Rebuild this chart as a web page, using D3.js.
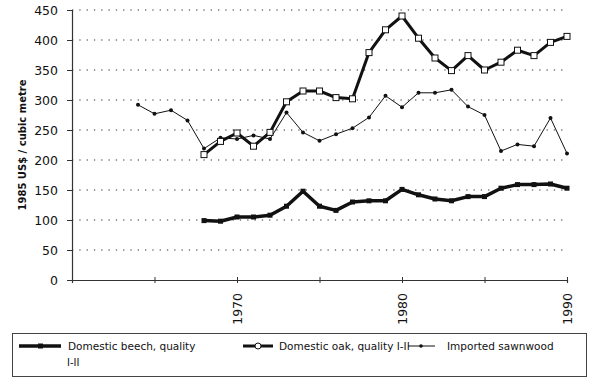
<!DOCTYPE html>
<html lang="en">
<head>
  <meta charset="UTF-8">
  <title>Sawnwood prices</title>
  <script src="https://cdn.jsdelivr.net/npm/d3@7"></script>
  <style>
    body { margin: 0; background: #fff; }
    text { font-family: "DejaVu Sans", sans-serif; fill: #111; }
  </style>
</head>
<body>
  <svg id="chart"></svg>
  <script>
    // values
    var beechYears = d3.range(1968, 1991);
    var beech = [99, 98, 105, 105, 108, 123, 148, 123, 116, 130, 132, 132, 151, 142, 135, 132, 139, 139, 153, 159, 159, 160, 153];
    var oakYears = d3.range(1968, 1991);
    var oak = [209, 231, 245, 223, 246, 297, 315, 315, 304, 302, 379, 417, 440, 403, 370, 349, 374, 350, 363, 383, 374, 396, 406];
    var importYears = d3.range(1964, 1991);
    var imported = [292, 277, 283, 266, 219, 237, 235, 241, 235, 279, 246, 232, 243, 253, 271, 307, 288, 312, 312, 317, 289, 275, 215, 226, 223, 270, 211];
    var yTicks = [0, 50, 100, 150, 200, 250, 300, 350, 400, 450];
    var xTicks = [1960, 1965, 1970, 1975, 1980, 1985, 1990];
    var xLabels = [1970, 1980, 1990];

    var width = 600, height = 382;
    var svg = d3.select("#chart").attr("width", width).attr("height", height);

    var x = d3.scaleLinear().domain([1960, 1990]).range([72, 567]);
    var y = d3.scaleLinear().domain([0, 450]).range([280, 10]);

    // dotted grid
    svg.append("g")
        .selectAll("line")
        .data(yTicks.slice(1))
        .enter()
        .append("line")
        .attr("x1", x(1960))
        .attr("x2", x(1990))
        .attr("y1", d => y(d))
        .attr("y2", d => y(d))
        .attr("stroke", "#333")
        .attr("stroke-width", 1.2)
        .attr("stroke-dasharray", "1.3,6");

    // y axis
    var yAxis = svg.append("g")
        .attr("transform", "translate(" + x(1960) + ",0)")
        .call(d3.axisLeft(y).tickValues(yTicks).tickSize(5).tickPadding(9));
    yAxis.select(".domain").attr("stroke", "#333").attr("stroke-width", 1.2);
    yAxis.selectAll(".tick line").attr("stroke", "#333");
    yAxis.selectAll("text").style("font-size", "12.5px").style("font-family", "DejaVu Sans, sans-serif").attr("fill", "#111");

    // x axis
    var xAxis = svg.append("g")
        .attr("transform", "translate(0," + y(0) + ")")
        .call(d3.axisBottom(x).tickValues(xTicks).tickSize(3).tickFormat(""));
    xAxis.select(".domain").attr("stroke", "#333").attr("stroke-width", 1.2);
    xAxis.selectAll(".tick line").attr("stroke", "#333").attr("y1", -3);

    svg.append("g")
        .selectAll("text")
        .data(xLabels)
        .enter()
        .append("text")
        .attr("transform", d => "translate(" + (x(d) + 4.5) + "," + (y(0) + 13) + ") rotate(-90)")
        .attr("text-anchor", "end")
        .style("font-size", "12.5px")
        .text(d => d);

    // y title
    svg.append("text")
        .attr("transform", "translate(26,145) rotate(-90)")
        .attr("text-anchor", "middle")
        .style("font-size", "10px")
        .style("font-weight", "bold")
        .text("1985 US$ / cubic metre");

    var line = d3.line().x(d => x(d[0])).y(d => y(d[1]));

    // imported sawnwood
    var impData = d3.zip(importYears, imported);
    svg.append("path")
        .attr("d", line(impData))
        .attr("fill", "none")
        .attr("stroke", "#111")
        .attr("stroke-width", 1);
    svg.append("g")
        .selectAll("circle")
        .data(impData)
        .enter()
        .append("circle")
        .attr("cx", d => x(d[0]))
        .attr("cy", d => y(d[1]))
        .attr("r", 2)
        .attr("fill", "#111");

    // beech
    var beechData = d3.zip(beechYears, beech);
    svg.append("path")
        .attr("d", line(beechData))
        .attr("fill", "none")
        .attr("stroke", "#111")
        .attr("stroke-width", 3.5)
        .attr("stroke-linejoin", "round");
    svg.append("g")
        .selectAll("rect")
        .data(beechData)
        .enter()
        .append("rect")
        .attr("x", d => x(d[0]) - 2.5)
        .attr("y", d => y(d[1]) - 2.5)
        .attr("width", 5)
        .attr("height", 5)
        .attr("fill", "#111");

    // oak
    var oakData = d3.zip(oakYears, oak);
    svg.append("path")
        .attr("d", line(oakData))
        .attr("fill", "none")
        .attr("stroke", "#111")
        .attr("stroke-width", 3)
        .attr("stroke-linejoin", "round");
    svg.append("g")
        .selectAll("rect")
        .data(oakData)
        .enter()
        .append("rect")
        .attr("x", d => x(d[0]) - 3)
        .attr("y", d => y(d[1]) - 3)
        .attr("width", 6)
        .attr("height", 6)
        .attr("fill", "#fff")
        .attr("stroke", "#111")
        .attr("stroke-width", 1);

    // legend
    var lg = svg.append("g");
    lg.append("rect")
        .attr("x", 12.5).attr("y", 333.5)
        .attr("width", 574).attr("height", 43)
        .attr("fill", "none")
        .attr("stroke", "#444")
        .attr("stroke-width", 1);

    var ly = 346;
    lg.append("line").attr("x1", 19).attr("x2", 61).attr("y1", ly).attr("y2", ly)
        .attr("stroke", "#111").attr("stroke-width", 3.5);
    lg.append("rect").attr("x", 38).attr("y", ly - 2.5).attr("width", 5).attr("height", 5).attr("fill", "#111");
    lg.append("text").attr("x", 68).attr("y", ly + 4).style("font-size", "10.5px").text("Domestic beech, quality");
    lg.append("text").attr("x", 67).attr("y", ly + 20).style("font-size", "10px").text("I-II");

    lg.append("line").attr("x1", 243).attr("x2", 273).attr("y1", ly).attr("y2", ly)
        .attr("stroke", "#111").attr("stroke-width", 3);
    lg.append("circle").attr("cx", 258).attr("cy", ly).attr("r", 3)
        .attr("fill", "#fff").attr("stroke", "#111").attr("stroke-width", 1);
    lg.append("text").attr("x", 279).attr("y", ly + 4).style("font-size", "10.5px").text("Domestic oak, quality I-II");

    lg.append("line").attr("x1", 408).attr("x2", 435).attr("y1", ly).attr("y2", ly)
        .attr("stroke", "#111").attr("stroke-width", 1);
    lg.append("circle").attr("cx", 421).attr("cy", ly).attr("r", 1.8).attr("fill", "#111");
    lg.append("text").attr("x", 447).attr("y", ly + 4).style("font-size", "10.5px").text("Imported sawnwood");
  </script>
</body>
</html>
